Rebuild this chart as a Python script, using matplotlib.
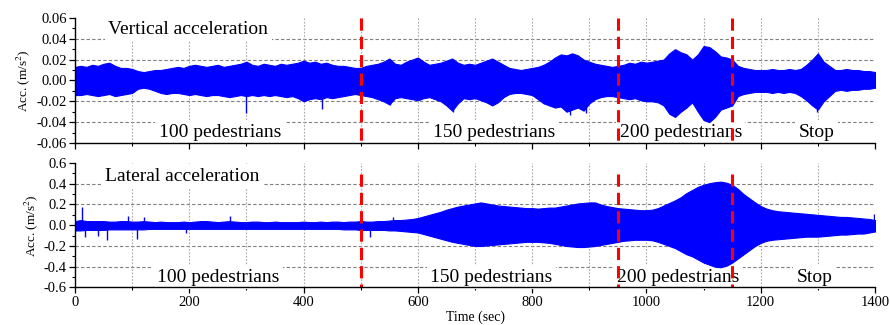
import numpy as np
import matplotlib
matplotlib.use("Agg")
import matplotlib.pyplot as plt
from matplotlib.ticker import MultipleLocator, FormatStrFormatter

# ---------------- data ----------------
time_s = list(range(0, 1401, 10))

# vertical acceleration envelope, units of 0.001 m/s^2
vert_upper_milli = [13, 14, 13, 15, 14, 16, 17, 14, 12, 12,
                    11, 9, 8, 9, 10, 10, 11, 12, 13, 12,
                    14, 15, 14, 13, 14, 15, 13, 14, 15, 16,
                    18, 15, 14, 16, 15, 14, 16, 15, 16, 17,
                    19, 17, 18, 16, 17, 15, 14, 14, 13, 12,
                    12, 14, 15, 16, 18, 21, 16, 15, 18, 20,
                    22, 18, 15, 16, 17, 19, 21, 17, 15, 16,
                    15, 17, 19, 21, 18, 15, 12, 11, 10, 11,
                    12, 13, 15, 18, 22, 25, 24, 26, 24, 20,
                    18, 16, 15, 14, 13, 14, 15, 17, 16, 18,
                    17, 18, 19, 20, 26, 30, 27, 25, 20, 25,
                    33, 32, 28, 23, 22, 20, 14, 12, 11, 10,
                    10, 10, 11, 10, 10, 11, 10, 11, 15, 20,
                    26, 18, 14, 10, 10, 11, 10, 10, 9, 9, 8]
vert_lower_milli = [-14, -14, -13, -14, -15, -14, -13, -15, -14, -13,
                    -12, -8, -7, -8, -10, -12, -13, -12, -12, -13,
                    -14, -13, -14, -15, -14, -14, -15, -16, -15, -14,
                    -15, -14, -15, -14, -15, -14, -15, -16, -15, -17,
                    -20, -18, -17, -18, -16, -17, -16, -15, -14, -13,
                    -14, -15, -16, -18, -20, -23, -17, -16, -17, -18,
                    -19, -17, -16, -18, -20, -24, -29, -22, -17, -18,
                    -17, -19, -21, -24, -21, -16, -13, -12, -12, -13,
                    -14, -18, -22, -24, -26, -25, -30, -28, -26, -29,
                    -22, -18, -16, -15, -15, -16, -17, -18, -17, -19,
                    -20, -20, -21, -24, -32, -35, -30, -26, -21, -30,
                    -38, -40, -35, -28, -26, -24, -15, -13, -12, -11,
                    -11, -11, -12, -11, -12, -11, -12, -15, -19, -24,
                    -28, -20, -15, -10, -9, -10, -9, -9, -8, -8, -7]
vert_spike_t = [300, 433, 551, 661, 866, 895, 1298]
vert_spike_v = [-0.031, -0.027, -0.024, -0.030, -0.033, -0.031, -0.030]

# lateral acceleration envelope, m/s^2
lat_upper = [0.04, 0.05, 0.04, 0.04, 0.04, 0.04, 0.035, 0.035, 0.04, 0.04,
             0.035, 0.035, 0.04, 0.035, 0.03, 0.035, 0.03, 0.03, 0.03, 0.035,
             0.03, 0.035, 0.04, 0.04, 0.035, 0.03, 0.035, 0.04, 0.035, 0.03,
             0.03, 0.035, 0.035, 0.03, 0.03, 0.035, 0.03, 0.03, 0.03, 0.03,
             0.035, 0.03, 0.03, 0.035, 0.03, 0.035, 0.035, 0.03, 0.035, 0.035,
             0.04, 0.035, 0.035, 0.04, 0.04, 0.045, 0.05, 0.05, 0.055, 0.06,
             0.07, 0.085, 0.10, 0.115, 0.13, 0.15, 0.165, 0.18, 0.19, 0.20,
             0.21, 0.22, 0.21, 0.20, 0.19, 0.185, 0.18, 0.175, 0.17, 0.165,
             0.165, 0.16, 0.165, 0.17, 0.17, 0.18, 0.19, 0.20, 0.21, 0.215,
             0.22, 0.22, 0.20, 0.185, 0.175, 0.165, 0.16, 0.155, 0.15, 0.145,
             0.145, 0.15, 0.165, 0.19, 0.215, 0.24, 0.27, 0.31, 0.34, 0.37,
             0.39, 0.405, 0.415, 0.42, 0.41, 0.39, 0.35, 0.30, 0.26, 0.22,
             0.185, 0.16, 0.145, 0.135, 0.13, 0.125, 0.12, 0.115, 0.11, 0.105,
             0.10, 0.095, 0.09, 0.085, 0.08, 0.08, 0.075, 0.07, 0.065, 0.06, 0.05]
lat_lower = [-0.05, -0.05, -0.045, -0.045, -0.045, -0.045, -0.04, -0.04, -0.04, -0.04,
             -0.04, -0.04, -0.04, -0.035, -0.035, -0.035, -0.035, -0.035, -0.035, -0.035,
             -0.035, -0.035, -0.035, -0.035, -0.035, -0.035, -0.035, -0.035, -0.035, -0.035,
             -0.035, -0.035, -0.035, -0.035, -0.035, -0.035, -0.035, -0.035, -0.035, -0.035,
             -0.035, -0.035, -0.035, -0.035, -0.035, -0.035, -0.035, -0.04, -0.04, -0.04,
             -0.045, -0.045, -0.045, -0.045, -0.045, -0.05, -0.05, -0.055, -0.06, -0.065,
             -0.07, -0.085, -0.10, -0.115, -0.13, -0.145, -0.16, -0.17, -0.18, -0.19,
             -0.20, -0.20, -0.195, -0.19, -0.185, -0.18, -0.175, -0.17, -0.165, -0.16,
             -0.16, -0.16, -0.165, -0.17, -0.18, -0.19, -0.20, -0.205, -0.21, -0.21,
             -0.205, -0.20, -0.19, -0.18, -0.17, -0.16, -0.15, -0.145, -0.14, -0.14,
             -0.14, -0.145, -0.16, -0.18, -0.20, -0.22, -0.25, -0.28, -0.30, -0.33,
             -0.36, -0.38, -0.40, -0.405, -0.39, -0.36, -0.32, -0.28, -0.24, -0.20,
             -0.17, -0.15, -0.14, -0.135, -0.13, -0.125, -0.12, -0.115, -0.11, -0.11,
             -0.11, -0.105, -0.10, -0.095, -0.09, -0.09, -0.085, -0.08, -0.08, -0.07, -0.06]
lat_spike_t = [12, 17, 40, 56, 92, 108, 120, 194, 271, 516, 557, 1398]
lat_spike_v = [0.18, -0.11, -0.10, -0.14, 0.09, -0.13, 0.08, -0.07, 0.09, -0.11, 0.08, 0.11]

phase_lines = [500, 950, 1150]
phase_labels = ["100 pedestrians", "150 pedestrians", "200 pedestrians", "Stop"]
phase_label_t = [254, 733, 1060, 1298]

vert_upper = [v / 1000 for v in vert_upper_milli]
vert_lower = [v / 1000 for v in vert_lower_milli]

# ---------------- figure ----------------
plt.rcParams['font.family'] = ['Liberation Serif', 'DejaVu Serif']
plt.rcParams['mathtext.fontset'] = 'stix'

fig = plt.figure(figsize=(8.9, 3.25), dpi=100)
ax1 = fig.add_axes([0.0843, 0.56, 0.8989, 0.385])
ax2 = fig.add_axes([0.0843, 0.1154, 0.8989, 0.3831])

BLUE = '#0000ff'
box = dict(facecolor='white', edgecolor='none', pad=2.5)
TXT = 14


def style(ax, ylim, major, minor, fmt):
    ax.set_xlim(0, 1400)
    ax.set_ylim(*ylim)
    ax.set_axisbelow(True)
    for s in ['top', 'right']:
        ax.spines[s].set_visible(False)
    for s in ['left', 'bottom']:
        ax.spines[s].set_linewidth(1.0)
        ax.spines[s].set_zorder(5)
    ax.yaxis.set_major_locator(MultipleLocator(major))
    ax.yaxis.set_minor_locator(MultipleLocator(minor))
    ax.yaxis.set_major_formatter(FormatStrFormatter(fmt))
    ax.xaxis.set_major_locator(MultipleLocator(200))
    ax.xaxis.set_minor_locator(MultipleLocator(100))
    ax.tick_params(which='major', direction='out', length=4, width=0.9, labelsize=10.5, pad=2)
    ax.tick_params(which='minor', direction='out', length=2.2, width=0.8)
    ax.grid(False)
    for v in ax.get_yticks():
        if ylim[0] < v < ylim[1]:
            ax.axhline(v, color='#7f7f7f', lw=0.8, ls=(0, (3, 2)), zorder=0.5)
    for v in range(100, 1400, 100):
        ax.axvline(v, color='#a8a8a8', lw=0.8, ls=(0, (1.5, 1.5)), zorder=0.5)
    ax.set_ylabel('Acc. (m/s$^2$)', fontsize=9.5, labelpad=3)


style(ax1, (-0.06, 0.06), 0.02, 0.01, '%.2f')
style(ax2, (-0.6, 0.6), 0.2, 0.1, '%.1f')
ax1.tick_params(axis='x', which='both', labelbottom=False)

# signals
ax1.fill_between(time_s, vert_lower, vert_upper, color=BLUE, lw=0.8, zorder=2)
ax1.vlines(vert_spike_t, 0, vert_spike_v, color=BLUE, lw=1.0, zorder=2)
ax2.fill_between(time_s, lat_lower, lat_upper, color=BLUE, lw=0.8, zorder=2)
ax2.vlines(lat_spike_t, 0, lat_spike_v, color=BLUE, lw=1.0, zorder=2)

# texts
ax1.text(58, 0.049, 'Vertical acceleration', fontsize=TXT, ha='left', va='center',
         bbox=box, zorder=1.5)
ax2.text(52, 0.47, 'Lateral acceleration', fontsize=TXT, ha='left', va='center',
         bbox=box, zorder=1.5)
for lab, tx in zip(phase_labels, phase_label_t):
    ax1.text(tx, -0.0495, lab, fontsize=TXT, ha='center', va='center', bbox=box, zorder=1.5)
    ax2.text(tx - 4, -0.50, lab, fontsize=TXT, ha='center', va='center', bbox=box, zorder=1.5)

# phase lines
for ax, y0, top in [(ax1, -0.06, 0.06), (ax2, -0.6, 0.49)]:
    for xv in phase_lines:
        ax.vlines(xv, top, y0, color='#ff0000', lw=2.2, ls=(0, (4, 2)), zorder=4)

ax2.set_xlabel('Time (sec)', fontsize=10, labelpad=1)

fig.savefig('out.png', dpi=100)
